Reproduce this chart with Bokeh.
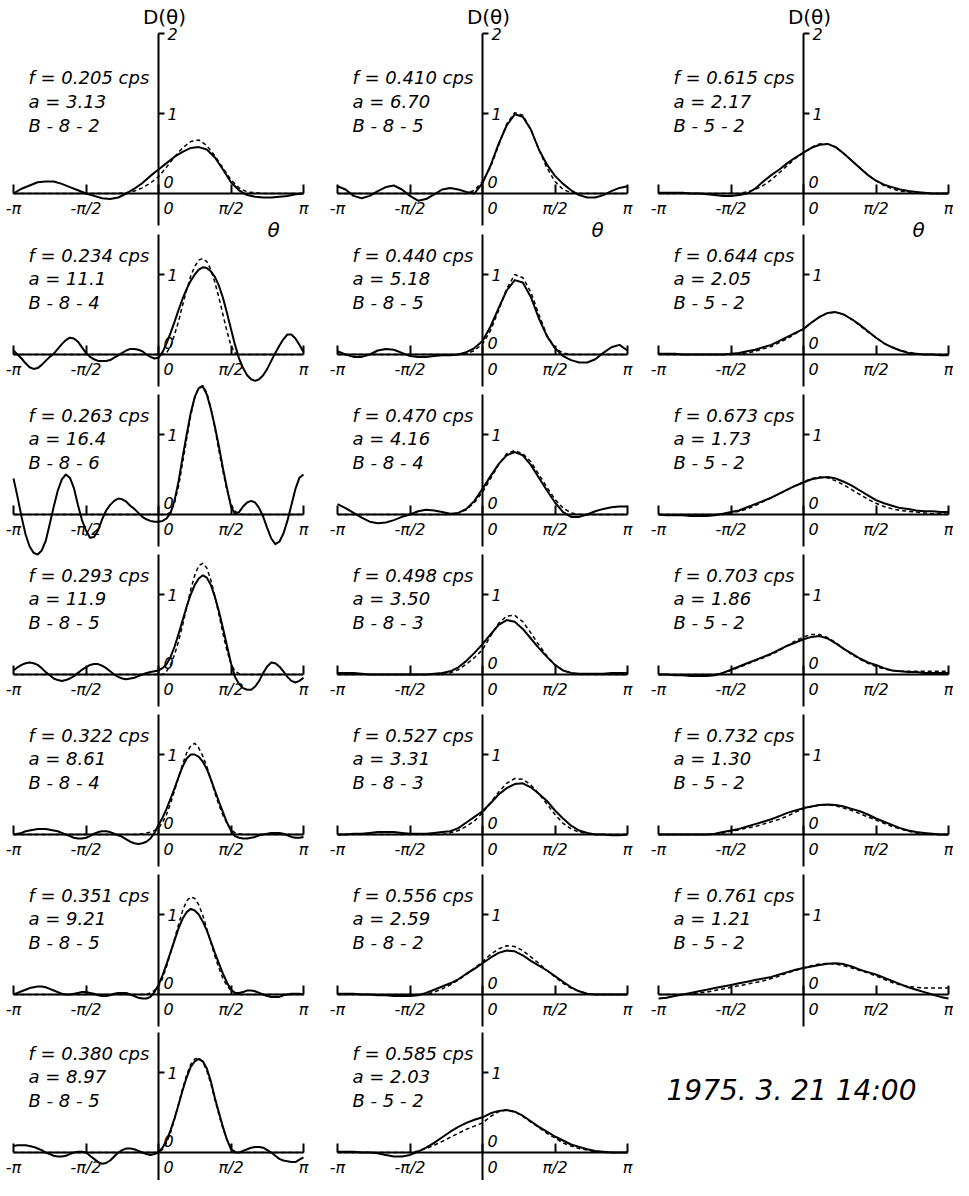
from bokeh.plotting import figure
from bokeh.models import Range1d, LinearAxis, FixedTicker, ColumnDataSource
from bokeh.core.properties import value
from bokeh.embed import file_html
from bokeh.resources import INLINE

# sampling grids of the direction angle (degrees)
theta_10 = list(range(-180, 181, 10))
theta_5 = list(range(-180, 181, 5))

# ---- panel labels ----
freqs = ["0.205", "0.234", "0.263", "0.293", "0.322", "0.351", "0.380",
         "0.410", "0.440", "0.470", "0.498", "0.527", "0.556", "0.585",
         "0.615", "0.644", "0.673", "0.703", "0.732", "0.761"]
a_vals = ["3.13", "11.1", "16.4", "11.9", "8.61", "9.21", "8.97",
          "6.70", "5.18", "4.16", "3.50", "3.31", "2.59", "2.03",
          "2.17", "2.05", "1.73", "1.86", "1.30", "1.21"]
codes = ["B-8-2", "B-8-4", "B-8-6", "B-8-5", "B-8-4", "B-8-5", "B-8-5",
         "B-8-5", "B-8-5", "B-8-4", "B-8-3", "B-8-3", "B-8-2", "B-5-2",
         "B-5-2", "B-5-2", "B-5-2", "B-5-2", "B-5-2", "B-5-2"]
x_tick_labels = ["-π", "-π/2", "", "π/2", "π"]
date_label = "1975. 3. 21 14:00"

# ---- D(theta): solid = estimate, dashed = fitted ----
# 10-degree samples
solid_0205 = [0.00, 0.06, 0.10, 0.14, 0.15, 0.15, 0.12, 0.08, 0.04, 0.00, -0.03, -0.06, -0.07, -0.05, 0.00, 0.06, 0.13, 0.22, 0.30, 0.38, 0.46, 0.52, 0.57, 0.58, 0.55, 0.45, 0.30, 0.14, 0.04, -0.02, -0.04, -0.05, -0.05, -0.04, -0.03, -0.01, 0.00]
dashed_0205 = [0, 0, 0, 0, 0, 0, 0, 0, 0, 0, 0, 0, 0.00, 0.00, 0.01, 0.03, 0.07, 0.13, 0.21, 0.33, 0.46, 0.57, 0.65, 0.67, 0.60, 0.47, 0.32, 0.17, 0.07, 0.02, 0.01, 0, 0, 0, 0, 0, 0]

# 5-degree samples
solid_0234 = [0.05, 0.00, -0.05, -0.11, -0.16, -0.18, -0.17, -0.13, -0.08,
              -0.03, 0.01, 0.07, 0.13, 0.18, 0.21, 0.20, 0.16, 0.09,
              0.02, -0.03, -0.06, -0.08, -0.08, -0.08, -0.07, -0.04, -0.01,
              0.02, 0.05, 0.07, 0.07, 0.06, 0.04, 0.00, -0.03, -0.05,
              -0.04, 0.03, 0.14, 0.27, 0.41, 0.56, 0.70, 0.82, 0.92,
              1.00, 1.06, 1.09, 1.08, 1.04, 0.97, 0.86, 0.71, 0.52,
              0.32, 0.12, -0.05, -0.17, -0.26, -0.31, -0.33, -0.31, -0.26,
              -0.18, -0.08, 0.02, 0.11, 0.19, 0.25, 0.25, 0.20, 0.12,
              0.03]
dashed_0234 = [0] * 38 + [0.02, 0.10, 0.25, 0.42, 0.62, 0.81, 0.98, 1.10, 1.18, 1.20, 1.16, 1.06, 0.90, 0.71, 0.50, 0.29, 0.11, 0.02] + [0] * 17

solid_0263 = [0.45, 0.22, -0.03, -0.25, -0.40, -0.48, -0.50, -0.45, -0.33,
              -0.12, 0.10, 0.30, 0.44, 0.50, 0.46, 0.33, 0.12, -0.07,
              -0.20, -0.29, -0.28, -0.20, -0.06, 0.05, 0.12, 0.17, 0.20,
              0.19, 0.16, 0.11, 0.07, 0.02, -0.03, -0.06, -0.08, -0.09,
              -0.09, -0.08, -0.05, 0.02, 0.18, 0.42, 0.72, 1.00, 1.27,
              1.47, 1.58, 1.60, 1.50, 1.32, 1.10, 0.85, 0.58, 0.33,
              0.10, 0.01, 0.03, 0.10, 0.15, 0.17, 0.15, 0.08, -0.03,
              -0.17, -0.30, -0.37, -0.34, -0.24, -0.08, 0.12, 0.32, 0.46,
              0.50]
dashed_0263 = [0] * 39 + [0.03, 0.15, 0.36, 0.65, 0.95, 1.24, 1.46, 1.59, 1.61, 1.52, 1.33, 1.08, 0.80, 0.54, 0.30, 0.13, 0.04, 0.01] + [0] * 16

solid_0293 = [0.05, 0.09, 0.12, 0.14, 0.15, 0.14, 0.12, 0.08, 0.03,
              -0.01, -0.05, -0.07, -0.08, -0.07, -0.05, -0.02, 0.02, 0.06,
              0.09, 0.12, 0.13, 0.13, 0.11, 0.08, 0.04, 0.00, -0.03,
              -0.05, -0.06, -0.05, -0.04, -0.02, 0.00, 0.02, 0.03, 0.04,
              0.05, 0.08, 0.13, 0.22, 0.35, 0.51, 0.68, 0.85, 1.00,
              1.12, 1.20, 1.24, 1.21, 1.12, 0.97, 0.79, 0.58, 0.36,
              0.14, -0.03, -0.12, -0.17, -0.19, -0.19, -0.15, -0.08, 0.02,
              0.10, 0.15, 0.14, 0.10, 0.04, -0.03, -0.08, -0.10, -0.08,
              -0.04]
dashed_0293 = [0] * 38 + [0.04, 0.12, 0.25, 0.42, 0.62, 0.84, 1.06, 1.24, 1.36, 1.39, 1.33, 1.18, 0.98, 0.75, 0.51, 0.30, 0.13, 0.04, 0.01] + [0] * 16

solid_0322 = [0.00, 0.01, 0.02, 0.04, 0.05, 0.06, 0.07, 0.07, 0.07,
              0.06, 0.05, 0.04, 0.02, 0.00, -0.02, -0.04, -0.05, -0.05,
              -0.04, -0.02, 0.01, 0.03, 0.04, 0.04, 0.03, 0.01, -0.01,
              -0.03, -0.06, -0.09, -0.11, -0.12, -0.11, -0.09, -0.05, 0.02,
              0.12, 0.21, 0.32, 0.45, 0.58, 0.72, 0.85, 0.95, 1.00,
              1.00, 0.97, 0.91, 0.82, 0.69, 0.55, 0.41, 0.28, 0.15,
              0.05, -0.02, -0.04, -0.05, -0.05, -0.04, -0.03, -0.01, 0.00,
              0.01, 0.02, 0.02, 0.02, 0.01, -0.01, -0.03, -0.04, -0.04,
              -0.03]
dashed_0322 = [0] * 32 + [0.01, 0.02, 0.03, 0.05, 0.08, 0.15, 0.25, 0.39, 0.55, 0.72, 0.88, 1.02, 1.11, 1.14, 1.08, 0.98, 0.85, 0.69, 0.52, 0.37, 0.24, 0.14, 0.06, 0.02, 0.01] + [0] * 16

solid_0351 = [0.00, 0.02, 0.04, 0.06, 0.08, 0.09, 0.10, 0.10, 0.09,
              0.07, 0.05, 0.03, 0.01, 0.00, 0.00, 0.01, 0.02, 0.03,
              0.03, 0.02, 0.01, -0.01, -0.02, -0.02, -0.01, 0.01, 0.02,
              0.02, 0.02, 0.00, -0.02, -0.04, -0.05, -0.05, -0.03, 0.03,
              0.12, 0.24, 0.38, 0.53, 0.68, 0.83, 0.95, 1.03, 1.07,
              1.05, 1.00, 0.91, 0.80, 0.66, 0.52, 0.39, 0.26, 0.15,
              0.06, 0.02, 0.02, 0.03, 0.05, 0.05, 0.04, 0.02, 0.00,
              -0.02, -0.03, -0.03, -0.03, -0.01, 0.00, 0.01, 0.01, 0.01,
              0.00]
dashed_0351 = [0] * 34 + [0.02, 0.05, 0.10, 0.20, 0.35, 0.52, 0.70, 0.88, 1.05, 1.17, 1.22, 1.20, 1.12, 0.99, 0.82, 0.65, 0.48, 0.33, 0.20, 0.11, 0.05, 0.02] + [0] * 17

solid_0380 = [0.08, 0.09, 0.09, 0.09, 0.08, 0.07, 0.05, 0.03, 0.00,
              -0.02, -0.04, -0.05, -0.05, -0.04, -0.02, 0.00, 0.01, 0.01,
              0.00, -0.04, -0.08, -0.12, -0.14, -0.13, -0.10, -0.05, 0.00,
              0.03, 0.05, 0.05, 0.04, 0.02, 0.00, -0.02, -0.03, -0.02,
              0.00, 0.06, 0.15, 0.28, 0.43, 0.60, 0.78, 0.94, 1.07,
              1.14, 1.17, 1.14, 1.05, 0.89, 0.68, 0.50, 0.32, 0.16,
              0.04, 0.00, 0.00, 0.02, 0.04, 0.06, 0.07, 0.07, 0.06,
              0.03, 0.00, -0.04, -0.08, -0.10, -0.11, -0.12, -0.12, -0.09,
              -0.06]
dashed_0380 = [0] * 37 + [0.04, 0.12, 0.25, 0.42, 0.61, 0.80, 0.97, 1.10, 1.17, 1.18, 1.13, 1.02, 0.86, 0.66, 0.47, 0.30, 0.16, 0.06, 0.01] + [0] * 17

# 10-degree samples
solid_0410 = [0.09, 0.05, -0.03, -0.06, -0.03, 0.03, 0.08, 0.10, 0.05, -0.03, -0.09, -0.07, -0.01, 0.05, 0.07, 0.05, 0.02, 0.00, 0.13, 0.35, 0.62, 0.85, 0.99, 0.96, 0.80, 0.55, 0.36, 0.22, 0.12, 0.04, -0.02, -0.05, -0.05, -0.02, 0.03, 0.07, 0.09]
dashed_0410 = [0, 0, 0, 0, 0, 0, 0, 0, 0, 0, 0, 0, 0, 0, 0, 0, 0.00, 0.04, 0.15, 0.33, 0.60, 0.87, 1.01, 0.98, 0.80, 0.55, 0.32, 0.15, 0.05, 0.01, 0, 0, 0, 0, 0, 0, 0]

solid_0440 = [0.04, 0.00, -0.03, -0.03, 0.00, 0.05, 0.07, 0.06, 0.02, -0.02, -0.03, -0.03, -0.02, -0.01, -0.01, 0.00, 0.03, 0.08, 0.17, 0.35, 0.58, 0.80, 0.93, 0.90, 0.72, 0.45, 0.23, 0.08, -0.02, -0.07, -0.10, -0.10, -0.06, 0.02, 0.09, 0.12, 0.05]
dashed_0440 = [0, 0, 0, 0, 0, 0, 0, 0, 0, 0, 0, 0, 0, 0, 0, 0, 0.01, 0.05, 0.13, 0.30, 0.55, 0.82, 1.00, 0.96, 0.78, 0.50, 0.24, 0.08, 0.02, 0.00, 0, 0, 0, 0, 0, 0, 0]

solid_0470 = [0.13, 0.08, 0.02, -0.04, -0.09, -0.11, -0.10, -0.07, -0.03, 0.00, 0.04, 0.06, 0.05, 0.03, 0.01, 0.02, 0.07, 0.17, 0.32, 0.48, 0.63, 0.74, 0.78, 0.74, 0.62, 0.46, 0.30, 0.15, 0.03, -0.03, -0.03, 0.00, 0.04, 0.07, 0.09, 0.10, 0.10]
dashed_0470 = [0, 0, 0, 0, 0, 0, 0, 0, 0, 0, 0, 0, 0, 0, 0.00, 0.02, 0.06, 0.15, 0.28, 0.45, 0.62, 0.76, 0.80, 0.76, 0.66, 0.50, 0.34, 0.19, 0.08, 0.02, 0.00, 0, 0, 0, 0, 0, 0]

solid_0498 = [0.02, 0.02, 0.02, 0.01, 0.00, 0.00, 0.00, 0.00, 0.00, 0.00, 0.00, 0.00, 0.01, 0.02, 0.04, 0.09, 0.17, 0.27, 0.38, 0.50, 0.62, 0.68, 0.66, 0.57, 0.45, 0.33, 0.22, 0.12, 0.05, 0.02, 0.01, 0.01, 0.01, 0.01, 0.02, 0.02, 0.02]
dashed_0498 = [0, 0, 0, 0, 0, 0, 0, 0, 0, 0, 0, 0, 0, 0.00, 0.02, 0.06, 0.13, 0.21, 0.31, 0.48, 0.64, 0.73, 0.74, 0.66, 0.52, 0.37, 0.23, 0.12, 0.05, 0.02, 0.00, 0, 0, 0, 0, 0, 0]

solid_0527 = [0.00, 0.00, 0.01, 0.01, 0.02, 0.03, 0.03, 0.03, 0.02, 0.01, 0.01, 0.01, 0.02, 0.03, 0.04, 0.08, 0.15, 0.22, 0.29, 0.39, 0.50, 0.58, 0.63, 0.64, 0.59, 0.51, 0.42, 0.30, 0.20, 0.11, 0.05, 0.02, 0.00, 0.00, -0.01, -0.01, 0.00]
dashed_0527 = [0, 0, 0, 0, 0, 0, 0, 0, 0, 0, 0, 0, 0, 0, 0.02, 0.05, 0.10, 0.17, 0.27, 0.40, 0.53, 0.64, 0.70, 0.69, 0.62, 0.51, 0.38, 0.25, 0.14, 0.07, 0.03, 0.01, 0.00, 0, 0, 0, 0]

solid_0556 = [0.01, 0.01, 0.01, 0.00, 0.00, -0.01, -0.01, -0.02, -0.02, -0.02, -0.01, 0.02, 0.06, 0.10, 0.14, 0.19, 0.26, 0.32, 0.39, 0.46, 0.52, 0.55, 0.54, 0.49, 0.42, 0.36, 0.30, 0.23, 0.16, 0.09, 0.04, 0.01, 0.00, 0.00, 0.00, 0.00, 0.00]
dashed_0556 = [0, 0, 0, 0, 0, 0, 0, 0, 0, 0, 0, 0.00, 0.03, 0.07, 0.12, 0.18, 0.25, 0.33, 0.41, 0.50, 0.57, 0.61, 0.60, 0.55, 0.47, 0.39, 0.30, 0.22, 0.14, 0.08, 0.04, 0.01, 0.00, 0, 0, 0, 0]

solid_0585 = [0.01, 0.01, 0.01, 0.00, 0.00, -0.01, -0.03, -0.05, -0.05, -0.03, 0.01, 0.06, 0.12, 0.19, 0.26, 0.32, 0.37, 0.41, 0.44, 0.49, 0.52, 0.53, 0.51, 0.46, 0.39, 0.32, 0.26, 0.20, 0.15, 0.10, 0.07, 0.04, 0.02, 0.01, 0.00, 0.00, 0.00]
dashed_0585 = [0, 0, 0, 0, 0, 0, 0, 0, 0, 0.00, 0.02, 0.05, 0.09, 0.14, 0.19, 0.24, 0.29, 0.33, 0.37, 0.45, 0.51, 0.53, 0.51, 0.45, 0.38, 0.31, 0.24, 0.18, 0.12, 0.08, 0.05, 0.03, 0.01, 0.00, 0, 0, 0]

solid_0615 = [0.01, 0.01, 0.01, 0.01, 0.00, 0.00, -0.01, -0.02, -0.03, -0.03, -0.02, 0.00, 0.06, 0.15, 0.23, 0.30, 0.38, 0.45, 0.51, 0.57, 0.61, 0.62, 0.58, 0.50, 0.41, 0.32, 0.23, 0.16, 0.11, 0.08, 0.05, 0.03, 0.02, 0.01, 0.00, 0.00, 0.00]
dashed_0615 = [0, 0, 0, 0, 0, 0, 0, 0, 0, 0, 0.00, 0.02, 0.05, 0.10, 0.17, 0.26, 0.35, 0.44, 0.51, 0.58, 0.62, 0.62, 0.58, 0.50, 0.41, 0.32, 0.23, 0.16, 0.10, 0.06, 0.03, 0.02, 0.01, 0.00, 0, 0, 0]

solid_0644 = [0.01, 0.01, 0.01, 0.00, 0.00, 0.00, 0.00, 0.00, 0.00, 0.01, 0.02, 0.04, 0.06, 0.09, 0.12, 0.17, 0.22, 0.27, 0.32, 0.40, 0.47, 0.52, 0.53, 0.50, 0.44, 0.37, 0.29, 0.21, 0.14, 0.09, 0.05, 0.02, 0.01, 0.00, 0.00, -0.01, -0.01]
dashed_0644 = [0, 0, 0, 0, 0, 0, 0, 0, 0, 0, 0.01, 0.02, 0.04, 0.07, 0.10, 0.15, 0.20, 0.26, 0.32, 0.40, 0.47, 0.52, 0.53, 0.50, 0.44, 0.36, 0.28, 0.21, 0.14, 0.09, 0.05, 0.03, 0.01, 0.00, 0, 0, 0]

solid_0673 = [0.00, -0.01, -0.01, -0.01, -0.02, -0.02, -0.02, -0.01, 0.01, 0.03, 0.05, 0.09, 0.13, 0.17, 0.21, 0.26, 0.31, 0.36, 0.40, 0.44, 0.46, 0.47, 0.45, 0.41, 0.36, 0.30, 0.24, 0.18, 0.14, 0.11, 0.08, 0.07, 0.05, 0.04, 0.04, 0.03, 0.03]
dashed_0673 = [0, 0, 0, 0, 0, 0, 0, 0, 0.00, 0.02, 0.04, 0.07, 0.11, 0.16, 0.21, 0.26, 0.31, 0.36, 0.41, 0.45, 0.47, 0.46, 0.42, 0.37, 0.31, 0.25, 0.19, 0.14, 0.10, 0.07, 0.05, 0.04, 0.03, 0.02, 0.01, 0.01, 0.00]

solid_0703 = [0.00, 0.00, -0.01, -0.01, -0.02, -0.02, -0.02, -0.01, 0.02, 0.06, 0.10, 0.14, 0.18, 0.22, 0.26, 0.31, 0.36, 0.40, 0.44, 0.47, 0.48, 0.45, 0.39, 0.32, 0.26, 0.20, 0.15, 0.12, 0.08, 0.05, 0.04, 0.03, 0.03, 0.02, 0.02, 0.02, 0.02]
dashed_0703 = [0, 0, 0, 0, 0, 0, 0, 0.00, 0.02, 0.05, 0.09, 0.13, 0.17, 0.21, 0.25, 0.30, 0.36, 0.42, 0.47, 0.50, 0.50, 0.46, 0.40, 0.32, 0.25, 0.19, 0.14, 0.10, 0.07, 0.05, 0.04, 0.04, 0.04, 0.04, 0.04, 0.04, 0.04]

solid_0732 = [0.00, 0.00, 0.00, 0.00, 0.00, 0.00, 0.00, 0.01, 0.03, 0.05, 0.07, 0.10, 0.13, 0.16, 0.19, 0.23, 0.27, 0.30, 0.33, 0.35, 0.37, 0.375, 0.37, 0.35, 0.32, 0.29, 0.25, 0.20, 0.16, 0.12, 0.08, 0.05, 0.03, 0.02, 0.01, 0.00, 0.00]
dashed_0732 = [0, 0, 0, 0, 0, 0, 0, 0.00, 0.02, 0.04, 0.06, 0.08, 0.10, 0.13, 0.16, 0.19, 0.23, 0.28, 0.32, 0.35, 0.37, 0.37, 0.36, 0.33, 0.30, 0.26, 0.22, 0.18, 0.14, 0.10, 0.07, 0.04, 0.02, 0.01, 0.00, 0.00, 0.00]

solid_0761 = [-0.05, -0.04, -0.02, 0.00, 0.02, 0.04, 0.06, 0.08, 0.10, 0.12, 0.14, 0.16, 0.18, 0.20, 0.22, 0.25, 0.28, 0.31, 0.33, 0.35, 0.37, 0.385, 0.39, 0.38, 0.35, 0.31, 0.28, 0.25, 0.21, 0.17, 0.13, 0.09, 0.06, 0.03, 0.00, -0.03, -0.05]
dashed_0761 = [0, 0, 0, 0, 0.01, 0.02, 0.03, 0.05, 0.07, 0.09, 0.11, 0.13, 0.15, 0.17, 0.20, 0.23, 0.27, 0.30, 0.33, 0.36, 0.38, 0.39, 0.38, 0.36, 0.33, 0.30, 0.27, 0.23, 0.19, 0.15, 0.12, 0.10, 0.09, 0.08, 0.08, 0.08, 0.08]

solids = [solid_0205, solid_0234, solid_0263, solid_0293, solid_0322, solid_0351, solid_0380,
          solid_0410, solid_0440, solid_0470, solid_0498, solid_0527, solid_0556, solid_0585,
          solid_0615, solid_0644, solid_0673, solid_0703, solid_0732, solid_0761]
dasheds = [dashed_0205, dashed_0234, dashed_0263, dashed_0293, dashed_0322, dashed_0351, dashed_0380,
           dashed_0410, dashed_0440, dashed_0470, dashed_0498, dashed_0527, dashed_0556, dashed_0585,
           dashed_0615, dashed_0644, dashed_0673, dashed_0703, dashed_0732, dashed_0761]
# panel -> (column, row)
panel_pos = [(0, r) for r in range(7)] + [(1, r) for r in range(7)] + [(2, r) for r in range(6)]


def grid_for(values):
    return theta_5 if len(values) == len(theta_5) else theta_10


# ---- layout (pixels) ----
W, H = 953, 1180
PX_PER_180 = 145.0   # pixels for pi
PX_PER_UNIT = 80.0   # pixels for D = 1
col_centers = [158, 482, 803]
row_baselines = [193, 354, 514, 674, 834, 994, 1152]

FONT_NAME = "DejaVu Sans"
FONT = value(FONT_NAME)

p = figure(width=W, height=H, output_backend="svg", toolbar_location=None,
           x_axis_type=None, y_axis_type=None, min_border=0,
           x_range=Range1d(0, 1), y_range=Range1d(0, 1),
           outline_line_color=None, background_fill_color="white",
           border_fill_color="white")

p.extra_x_ranges = {
    f"c{i}": Range1d(-cx * 180.0 / PX_PER_180, (W - cx) * 180.0 / PX_PER_180)
    for i, cx in enumerate(col_centers)
}
p.extra_y_ranges = {
    f"r{j}": Range1d(-(H - yb) / PX_PER_UNIT, yb / PX_PER_UNIT)
    for j, yb in enumerate(row_baselines)
}

for k, (c, r) in enumerate(panel_pos):
    cn, rn = f"c{c}", f"r{r}"
    # horizontal theta axis through D = 0
    xa = LinearAxis(x_range_name=cn, y_range_name=rn, fixed_location=0,
                    bounds=(-180, 180),
                    ticker=FixedTicker(ticks=[-180, -90, 0, 90, 180], minor_ticks=[]),
                    major_label_overrides={t: s for t, s in zip([-180, -90, 0, 90, 180], x_tick_labels)},
                    axis_line_width=2, axis_line_color="black",
                    major_tick_line_width=2, major_tick_in=9, major_tick_out=0,
                    minor_tick_line_color=None, major_label_standoff=5,
                    major_label_text_font=FONT_NAME, major_label_text_font_style="italic",
                    major_label_text_font_size="16px", major_label_text_color="black")
    p.add_layout(xa, "below")
    # vertical D axis through theta = 0
    top = 2.0 if r == 0 else 1.5
    ya = LinearAxis(x_range_name=cn, y_range_name=rn, fixed_location=0,
                    bounds=(-0.4, top),
                    ticker=FixedTicker(ticks=[1, 2] if r == 0 else [1], minor_ticks=[]),
                    axis_line_width=2, axis_line_color="black",
                    major_tick_line_width=2, major_tick_in=0, major_tick_out=6,
                    minor_tick_line_color=None, major_label_standoff=3,
                    major_label_text_font=FONT_NAME, major_label_text_font_style="italic",
                    major_label_text_font_size="16px", major_label_text_color="black")
    p.add_layout(ya, "right")

    p.line(grid_for(solids[k]), solids[k], x_range_name=cn, y_range_name=rn,
           line_color="black", line_width=2, line_join="round")
    p.line(grid_for(dasheds[k]), dasheds[k], x_range_name=cn, y_range_name=rn,
           line_color="black", line_width=1.5, line_dash="4 3", line_join="round")

    # zero labels near origin
    zsrc = ColumnDataSource(dict(x=[0, 0], y=[0, 0], t=["0", "0"], yo=[-12, 14]))
    p.text(x="x", y="y", text="t", y_offset="yo", x_offset=10, source=zsrc,
           x_range_name=cn, y_range_name=rn, text_font=FONT, text_font_style="italic",
           text_font_size="16px", text_align="center", text_baseline="middle",
           text_color="black")

    # panel annotation
    offs = [-116, -92, -68] if r == 0 else [-99, -76, -52]
    tsrc = ColumnDataSource(dict(
        x=[0, 0, 0], y=[0, 0, 0],
        t=[f"f = {freqs[k]} cps", f"a = {a_vals[k]}", codes[k].replace("-", " - ")],
        yo=offs))
    p.text(x="x", y="y", text="t", y_offset="yo", x_offset=-130, source=tsrc,
           x_range_name=cn, y_range_name=rn, text_font=FONT, text_font_style="italic",
           text_font_size="18px", text_align="left", text_baseline="middle",
           text_color="black")

    if r == 0:
        p.text(x=[0], y=[2], text=["D(θ)"], x_offset=6, y_offset=-17,
               x_range_name=cn, y_range_name=rn, text_font=FONT,
               text_font_size="20px", text_align="center", text_baseline="middle",
               text_color="black")
        p.text(x=[0], y=[0], text=["θ"], x_offset=115, y_offset=36,
               x_range_name=cn, y_range_name=rn, text_font=FONT, text_font_style="italic",
               text_font_size="20px", text_align="center", text_baseline="middle",
               text_color="black")

p.text(x=[0], y=[0], text=[date_label], x_offset=-12, y_offset=-62,
       x_range_name="c2", y_range_name="r6", text_font=FONT, text_font_style="italic",
       text_font_size="28px", text_align="center", text_baseline="middle",
       text_color="black")

open("out.html", "w").write(file_html(p, INLINE))
